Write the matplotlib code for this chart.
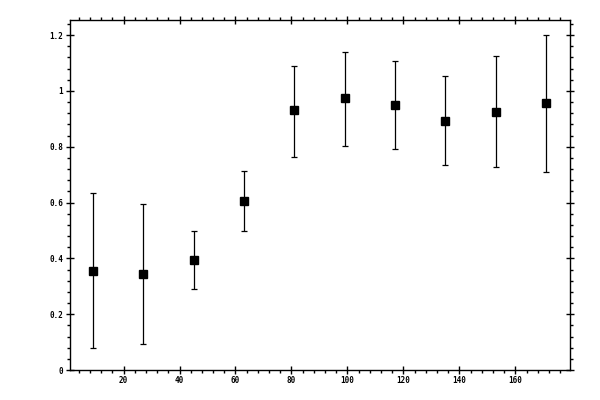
import numpy as np
import matplotlib
matplotlib.use('Agg')
import matplotlib.pyplot as plt
from matplotlib.ticker import MultipleLocator, FuncFormatter

# bin centres and measured values
x = [9, 27, 45, 63, 81, 99, 117, 135, 153, 171]
y = [0.355, 0.345, 0.395, 0.607, 0.930, 0.973, 0.951, 0.894, 0.926, 0.955]
y_lo = [0.079, 0.093, 0.291, 0.499, 0.765, 0.804, 0.793, 0.736, 0.729, 0.711]
y_hi = [0.635, 0.596, 0.499, 0.714, 1.091, 1.141, 1.109, 1.052, 1.125, 1.199]

y = np.array(y)
err = np.vstack((y - np.array(y_lo), np.array(y_hi) - y))

fig = plt.figure(figsize=(6, 4), dpi=100)
ax = fig.add_axes([69.5/600, 1 - 370/400, (570 - 69.5)/600, (370 - 19.5)/400])

ax.errorbar(x, y, yerr=err, fmt='s', color='black', ms=5.2, elinewidth=0.9,
            capsize=2.2, capthick=0.9, ecolor='black')

ax.set_xlim(0.7, 179.5)
ax.set_ylim(0, 1.256)

ax.xaxis.set_major_locator(MultipleLocator(20))
ax.xaxis.set_minor_locator(MultipleLocator(4))
ax.yaxis.set_major_locator(MultipleLocator(0.2))
ax.yaxis.set_minor_locator(MultipleLocator(0.04))
ax.yaxis.set_major_formatter(FuncFormatter(lambda v, p: '%g' % round(v, 2)))

for s in ax.spines.values():
    s.set_linewidth(1.0)

ax.tick_params(which='major', direction='inout', length=5.5, width=1.0,
               top=True, right=True, labelsize=5.5, pad=1.8)
ax.tick_params(which='minor', direction='out', length=2.4, width=1.0,
               top=True, right=True)
for lab in ax.get_xticklabels() + ax.get_yticklabels():
    lab.set_family('DejaVu Sans Mono')
    lab.set_weight('bold')

plt.savefig("out.png", dpi=100)
